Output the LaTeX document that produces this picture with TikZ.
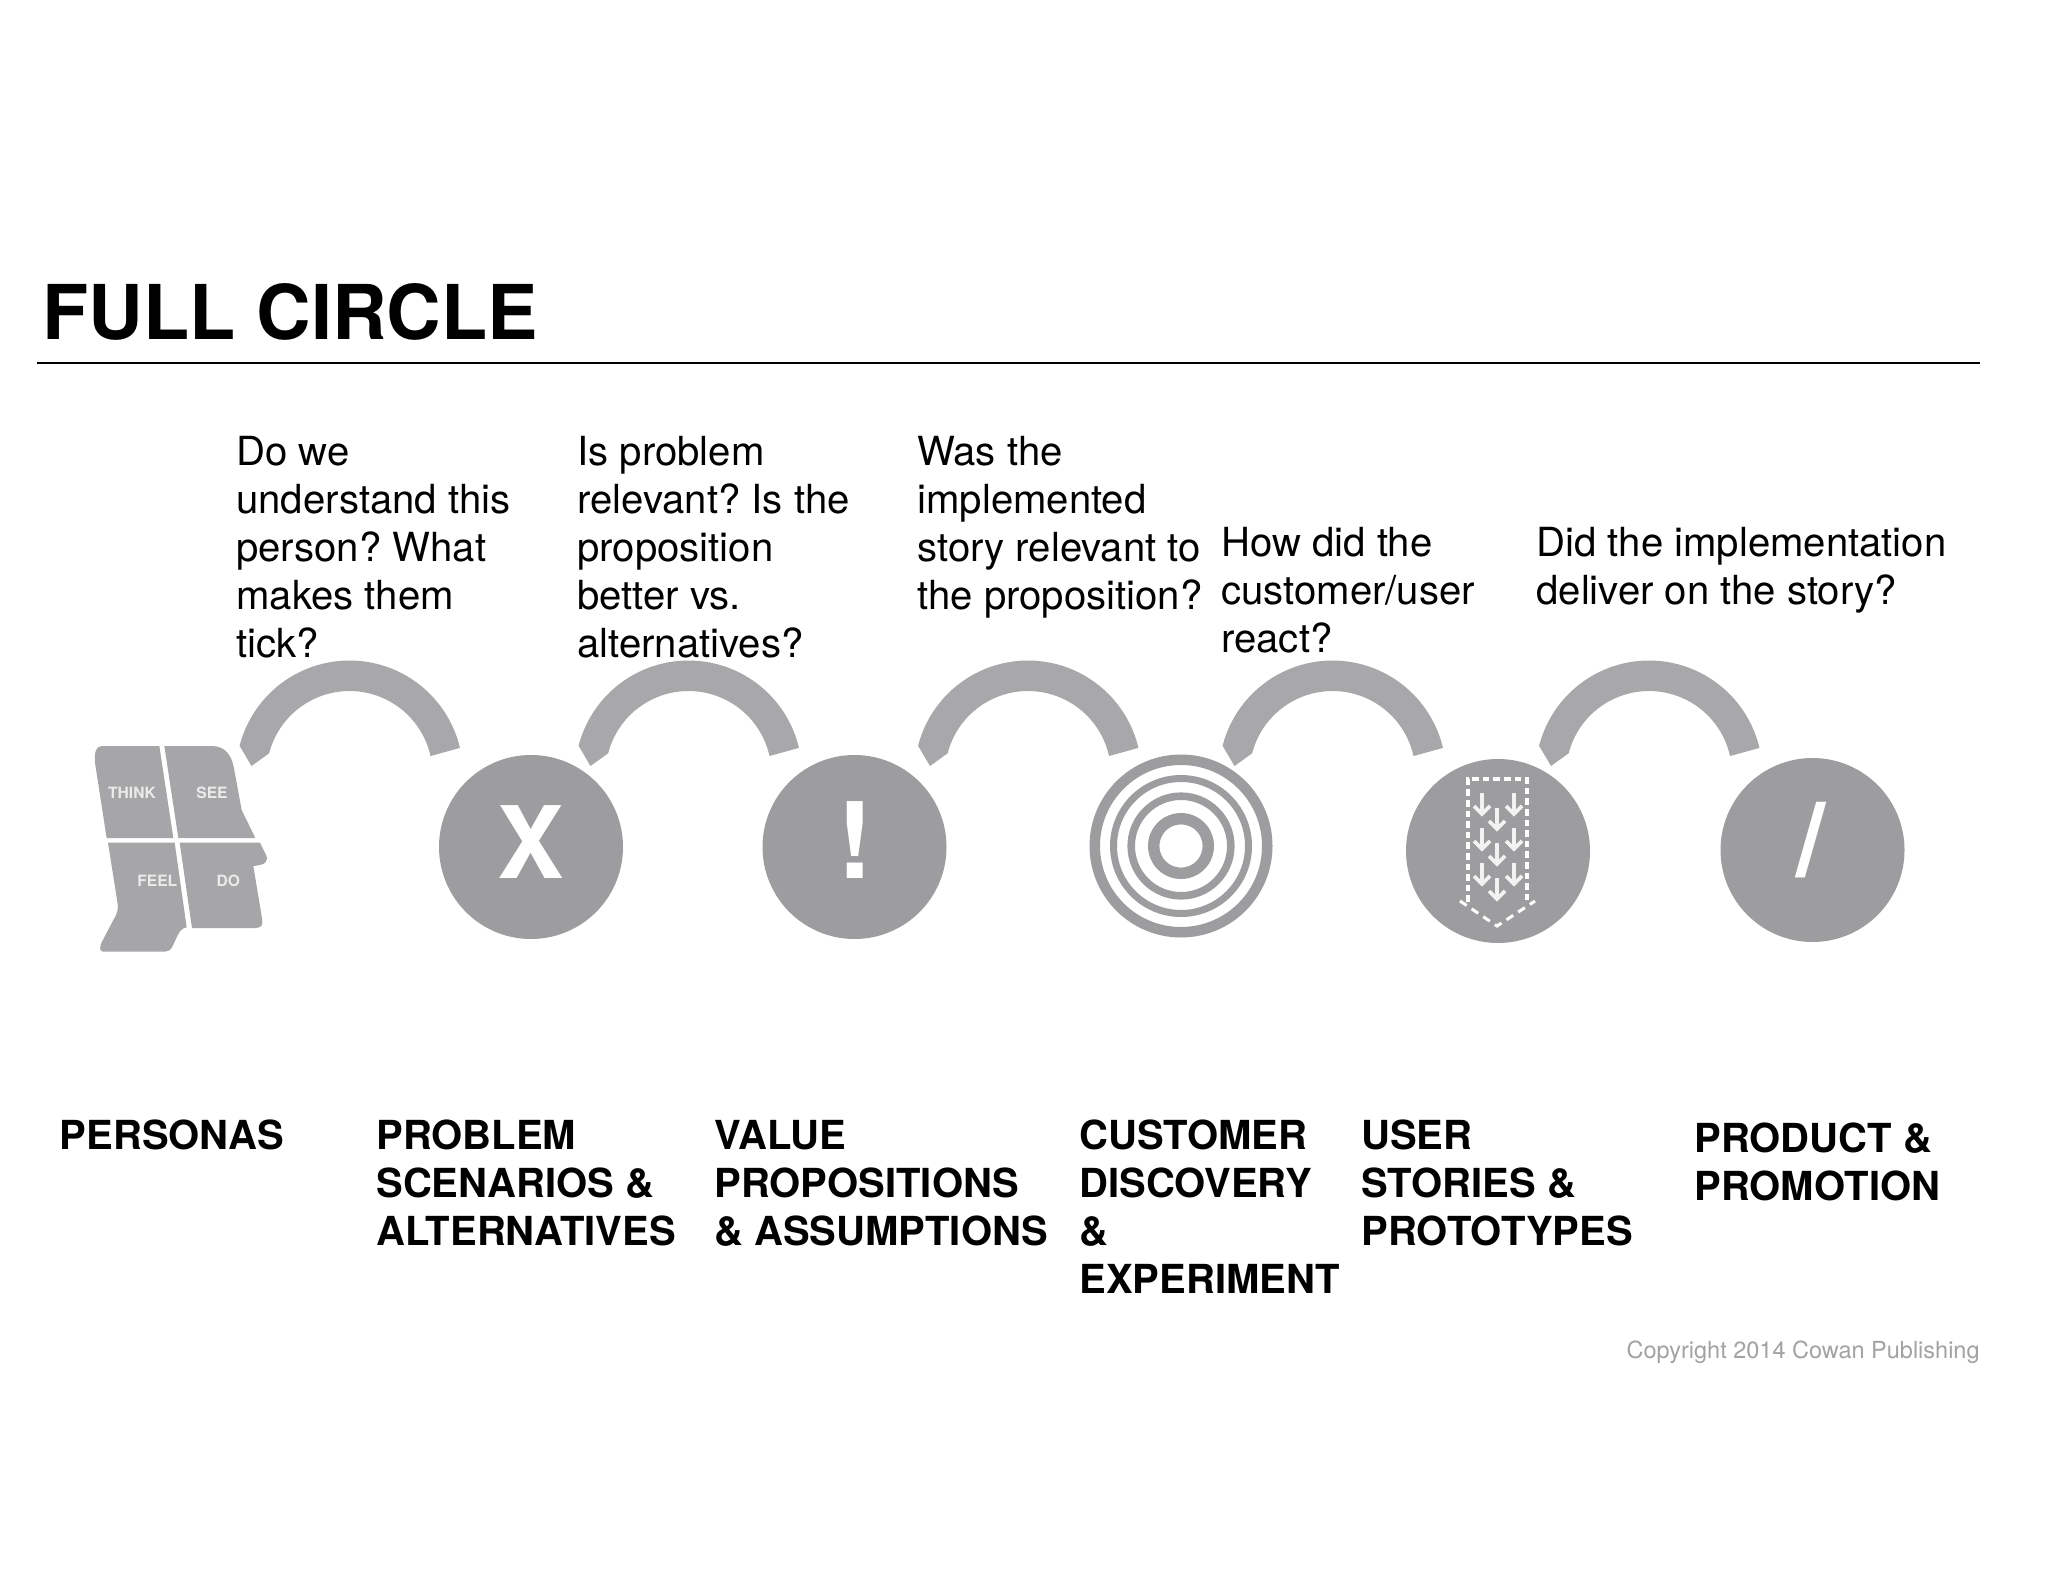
\documentclass[tikz,border=0pt]{standalone}
\usepackage{fontspec}
\setmainfont{TeX Gyre Heros}
\definecolor{bandgrey}{HTML}{A8A8AB}
\definecolor{discgrey}{HTML}{9D9D9F}
\definecolor{headgrey}{HTML}{A6A6A9}
\definecolor{copygrey}{HTML}{A2A2A2}
\tikzset{
  question/.style={anchor=north west,inner sep=0pt,align=left,text=black,font=\frenchspacing\fontsize{20.05}{24}\selectfont},
  stagelabel/.style={anchor=north west,inner sep=0pt,align=left,text=black,font=\bfseries\fontsize{20}{24}\selectfont},
  quadlabel/.style={inner sep=0pt,text=white!92!black,font=\bfseries\fontsize{7.8}{9}\selectfont},
  disc/.style={circle,fill=discgrey,draw=none,minimum size=92pt,inner sep=0pt},
  discglyph/.style={anchor=base,inner sep=0pt,text=white,font=\bfseries\fontsize{50}{60}\selectfont},
  band/.pic={
    \fill[bandgrey] plot[domain=346.7:194.4,samples=50] ({113.5*cos(\x)},{113.5*sin(\x)})
      -- (-98,-8) -- (-80,-21)
      -- plot[domain=194.7:347.5,samples=50] ({83*cos(\x)},{83*sin(\x)}) -- cycle;
  },
  downarrow/.pic={
    \draw[white!95!black,line width=1.8pt,line cap=butt,line join=miter] (0,0) -- (0,21) (-8,13) -- (0,21) -- (8,13);
  }
}
\begin{document}
\begin{tikzpicture}[x=0.5pt,y=-0.5pt]
\useasboundingbox (0,0) rectangle (2048,1582);
\fill[white] (0,0) rectangle (2048,1582);

\node[anchor=base west,inner sep=0pt,font=\bfseries\fontsize{37.8}{44}\selectfont] (title) at (42,340) {FULL CIRCLE};
\coordinate (ruleL) at (37,363);
\coordinate (ruleR) at (1980,363);
\draw[black,line width=0.9pt] (ruleL) -- (ruleR);

% questions
\node[question] (q1) at (236,435.5) {Do we\\understand this\\person? What\\makes them\\tick?};
\node[question] (q2) at (577,435.5) {Is problem\\relevant? Is the\\proposition\\better vs.\\alternatives?};
\node[question] (q3) at (917,435.5) {Was the\\implemented\\story relevant to\\the proposition?};
\node[question] (q4) at (1221,526.5) {How did the\\customer/user\\react?};
\node[question] (q5) at (1536,526.5) {Did the implementation\\deliver on the story?};

% bands
\foreach \cx in {349.5,688.5,1028,1332.5,1649}{
  \pic at (\cx,774) {band};
}

% head
\begin{scope}[shift={(70,640)},x=0.16667pt,y=-0.16667pt]
  \fill[headgrey] (100,318) -- (268,318) -- (310,594) -- (110,594) -- (76,375) .. controls (72,340) and (75,318) .. (100,318) -- cycle;
  \fill[headgrey] (283,318) -- (425,318) .. controls (465,318) and (485,345) .. (492,385) -- (515,510) -- (556,594) -- (325,594) -- cycle;
  \fill[headgrey] (114,608) -- (314,608) -- (350,862) .. controls (335,864) and (328,875) .. (322,888) -- (308,918) .. controls (302,930) and (295,935) .. (285,935) -- (100,935) .. controls (88,935) and (88,920) .. (96,905) -- (130,840) .. controls (145,815) and (145,805) .. (142,785) -- cycle;
  \fill[headgrey] (329,608) -- (570,608) -- (588,645) .. controls (597,665) and (585,675) .. (550,678) -- (576,835) .. controls (580,855) and (575,864) .. (555,864) -- (366,864) -- cycle;
  \node[quadlabel] (think) at (186,458) {THINK};
  \node[quadlabel] (see) at (426,458) {SEE};
  \node[quadlabel] (feel) at (262,722) {FEEL};
  \node[quadlabel] (do) at (475,722) {DO};
\end{scope}

% discs
\node[disc] (dx) at (531,847) {};
\node[discglyph] (xg) at (531,878) {X};
\node[disc] (dbang) at (854.5,847) {};
\node[discglyph,font=\bfseries\fontsize{53}{60}\selectfont] (bang) at (855.5,878) {!};

% target
\coordinate (tc) at (1181,846);
\fill[discgrey,even odd rule] (tc) circle[radius=91.5] (tc) circle[radius=81]
  (tc) circle[radius=71] (tc) circle[radius=64]
  (tc) circle[radius=53.6] (tc) circle[radius=46]
  (tc) circle[radius=33] (tc) circle[radius=21.6];

% story disc
\node[disc] (dstory) at (1498,851) {};
\coordinate (a1) at (1460,901);
\coordinate (a2) at (1497,926);
\coordinate (a3) at (1535,901);
\coordinate (b1) at (1468,902);
\coordinate (b2) at (1468,779);
\coordinate (b3) at (1527,779);
\coordinate (b4) at (1527,902);
\draw[white,line width=1.6pt,dash pattern=on 3.3pt off 2pt] (b1) -- (b2) -- (b3) -- (b4);
\draw[white,line width=1.5pt,dash pattern=on 4pt off 3pt] (a1) -- (a2) -- (a3);
\foreach \ax/\ay in {1482/793,1514/793,1497/808,1482/828,1514/828,1497/843,1482/863,1514/863,1497/878}{
  \pic at (\ax,\ay) {downarrow};
}

% slash disc
\node[disc] (dslash) at (1812.5,850) {};
\node[discglyph,font=\bfseries\fontsize{52}{60}\selectfont] (slash) at (1810.5,876) {/};

% stage labels
\node[stagelabel] (s1) at (59.5,1119.3) {PERSONAS};
\node[stagelabel] (s2) at (376,1119.3) {PROBLEM\\SCENARIOS \&\\ALTERNATIVES};
\node[stagelabel] (s3) at (714,1119.6) {VALUE\\PROPOSITIONS\\\& ASSUMPTIONS};
\node[stagelabel] (s4) at (1079,1119.3) {CUSTOMER\\DISCOVERY\\\&\\EXPERIMENT};
\node[stagelabel] (s5) at (1361,1119.3) {USER\\STORIES \&\\PROTOTYPES};
\node[stagelabel] (s6) at (1694,1122.3) {PRODUCT \&\\PROMOTION};

\node[anchor=base east,inner sep=0pt,text=copygrey,font=\fontsize{11.75}{14}\selectfont] (copy) at (1980,1358) {Copyright 2014 Cowan Publishing};
\end{tikzpicture}
\end{document}
